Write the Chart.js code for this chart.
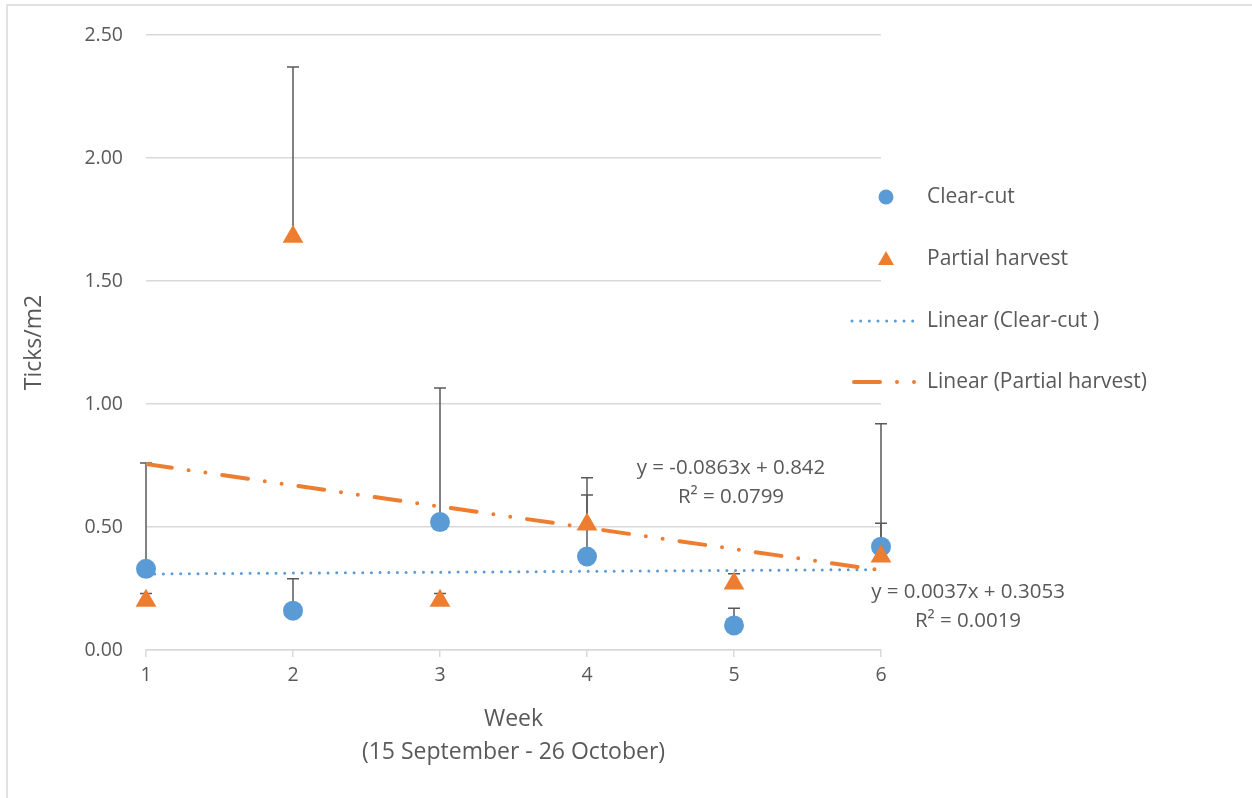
<!DOCTYPE html>
<html>
<head>
<meta charset="utf-8">
<script src="https://cdn.jsdelivr.net/npm/chart.js@4"></script>
<style>
  html, body { margin: 0; padding: 0; background: #fff; }
  #wrap { width: 1252px; height: 798px; position: relative; }
</style>
</head>
<body>
<div id="wrap"><canvas id="chart" width="1252" height="798"></canvas></div>
<script>
// --- data ---
const weeks = [1, 2, 3, 4, 5, 6];
const clearCut = [0.33, 0.16, 0.52, 0.38, 0.10, 0.42];
const clearCutErr = [0.43, 0.13, 0.545, 0.25, 0.07, 0.50];
const partialHarvest = [0.20, 1.68, 0.20, 0.51, 0.27, 0.38];
const partialHarvestErr = [0.03, 0.69, 0.03, 0.19, 0.04, 0.135];
const trendWeeks = [1, 6];
const trendClearCut = [0.309, 0.327];
const trendPartial = [0.756, 0.324];
const yTicks = [0, 0.5, 1.0, 1.5, 2.0, 2.5];
const eqClearCut = ['y = 0.0037x + 0.3053', 'R² = 0.0019'];
const eqPartial = ['y = -0.0863x + 0.842', 'R² = 0.0799'];

const BLUE = '#5b9bd5';
const ORANGE = '#ed7d31';
const TEXT = '#595959';
const GRID = '#d9d9d9';
const FONT = '"Open Sans", sans-serif';

const toXY = (xs, ys) => xs.map((x, i) => ({ x: x, y: ys[i] }));

const partialDash = [26, 17, 0, 17, 0, 17];
const clearDash = [0, 8.67];

// error bars go under the markers; text, legend and frame on top
const extras = {
    id: 'extras',
    beforeDatasetsDraw(chart) {
        const ctx = chart.ctx;
        const xs = chart.scales.x, ys = chart.scales.y;
        ctx.save();
        ctx.strokeStyle = TEXT;
        ctx.lineWidth = 1.5;
        const bar = (vals, errs) => vals.forEach((v, i) => {
            const px = xs.getPixelForValue(weeks[i]);
            const y0 = ys.getPixelForValue(v);
            const y1 = ys.getPixelForValue(v + errs[i]);
            ctx.beginPath();
            ctx.moveTo(px, y0); ctx.lineTo(px, y1);
            ctx.moveTo(px - 6, y1); ctx.lineTo(px + 6, y1);
            ctx.stroke();
        });
        bar(clearCut, clearCutErr);
        bar(partialHarvest, partialHarvestErr);
        ctx.restore();
    },
    afterDraw(chart) {
        const ctx = chart.ctx;
        const area = chart.chartArea;
        ctx.save();
        ctx.fillStyle = TEXT;
        ctx.textAlign = 'center';
        ctx.textBaseline = 'middle';
        // trendline equations
        ctx.font = '20.5px ' + FONT;
        ctx.fillText(eqPartial[0], 731, 468);
        ctx.fillText(eqPartial[1], 731, 497);
        ctx.fillText(eqClearCut[0], 968, 592);
        ctx.fillText(eqClearCut[1], 968, 621);

        // axis titles
        ctx.font = '23px ' + FONT;
        const cx = (area.left + area.right) / 2;
        ctx.fillText('Week', cx, 719);
        ctx.fillText('(15 September - 26 October)', cx, 752);
        ctx.save();
        ctx.translate(34, (area.top + area.bottom) / 2);
        ctx.rotate(-Math.PI / 2);
        ctx.fillText('Ticks/m2', 0, 0);
        ctx.restore();

        // legend
        ctx.textAlign = 'left';
        ctx.font = '21px ' + FONT;
        const lx = 927;
        const rows = [197, 259, 321, 382];
        ctx.fillStyle = BLUE;
        ctx.beginPath(); ctx.arc(886, rows[0], 7.5, 0, Math.PI * 2); ctx.fill();
        ctx.fillStyle = ORANGE;
        ctx.beginPath();
        ctx.moveTo(886, rows[1] - 8); ctx.lineTo(894, rows[1] + 6); ctx.lineTo(878, rows[1] + 6);
        ctx.closePath(); ctx.fill();

        ctx.lineCap = 'round';
        ctx.strokeStyle = BLUE; ctx.lineWidth = 3;
        ctx.setLineDash([0, 8.67]);
        ctx.beginPath(); ctx.moveTo(852, rows[2]); ctx.lineTo(915, rows[2]); ctx.stroke();
        ctx.strokeStyle = ORANGE; ctx.lineWidth = 4;
        ctx.setLineDash(partialDash);
        ctx.beginPath(); ctx.moveTo(854, rows[3]); ctx.lineTo(918, rows[3]); ctx.stroke();
        ctx.setLineDash([]);

        ctx.fillStyle = TEXT;
        ctx.fillText('Clear-cut', lx, rows[0]);
        ctx.fillText('Partial harvest', lx, rows[1]);
        ctx.fillText('Linear (Clear-cut )', lx, rows[2]);
        ctx.fillText('Linear (Partial harvest)', lx, rows[3]);

        // outer frame (left and top edges visible)
        ctx.strokeStyle = GRID; ctx.lineWidth = 1.5;
        ctx.beginPath();
        ctx.moveTo(7, 798); ctx.lineTo(7, 5); ctx.lineTo(1252, 5);
        ctx.stroke();
        ctx.restore();
    }
};

new Chart(document.getElementById('chart'), {
    type: 'scatter',
    data: {
        datasets: [
            {
                label: 'Linear (Clear-cut )',
                data: toXY(trendWeeks, trendClearCut),
                showLine: true,
                borderColor: BLUE,
                borderWidth: 3,
                borderDash: clearDash,
                borderCapStyle: 'round',
                pointRadius: 0,
                order: 3
            },
            {
                label: 'Linear (Partial harvest)',
                data: toXY(trendWeeks, trendPartial),
                showLine: true,
                borderColor: ORANGE,
                borderWidth: 4,
                borderDash: partialDash,
                borderCapStyle: 'round',
                pointRadius: 0,
                order: 2
            },
            {
                label: 'Clear-cut',
                data: toXY(weeks, clearCut),
                pointStyle: 'circle',
                pointRadius: 10,
                backgroundColor: BLUE,
                borderColor: BLUE,
                borderWidth: 0,
                clip: false,
                order: 1
            },
            {
                label: 'Partial harvest',
                data: toXY(weeks, partialHarvest),
                pointStyle: 'triangle',
                pointRadius: 12,
                backgroundColor: ORANGE,
                borderColor: ORANGE,
                borderWidth: 0,
                clip: false,
                order: 0
            }
        ]
    },
    options: {
        responsive: false,
        animation: false,
        layout: { padding: { top: 35, right: 371, left: 0, bottom: 0 } },
        plugins: { legend: { display: false }, tooltip: { enabled: false } },
        scales: {
            x: {
                type: 'linear',
                min: 1, max: 6,
                afterFit: s => { s.height = 148; },
                afterBuildTicks: s => { s.ticks = weeks.map(v => ({ value: v })); },
                ticks: { color: TEXT, font: { family: FONT, size: 19.5 }, padding: 7 },
                grid: { drawOnChartArea: false, drawTicks: true, tickLength: 7, color: GRID, lineWidth: 1.5 },
                border: { display: true, color: GRID, width: 1.5 }
            },
            y: {
                min: 0, max: 2.5,
                afterFit: s => { s.width = 146; },
                afterBuildTicks: s => { s.ticks = yTicks.map(v => ({ value: v })); },
                ticks: {
                    color: TEXT, font: { family: FONT, size: 19.5 }, padding: 23,
                    callback: v => v.toFixed(2)
                },
                grid: { color: GRID, lineWidth: 1.5, drawTicks: false },
                border: { display: false }
            }
        }
    },
    plugins: [extras]
});
</script>
</body>
</html>
